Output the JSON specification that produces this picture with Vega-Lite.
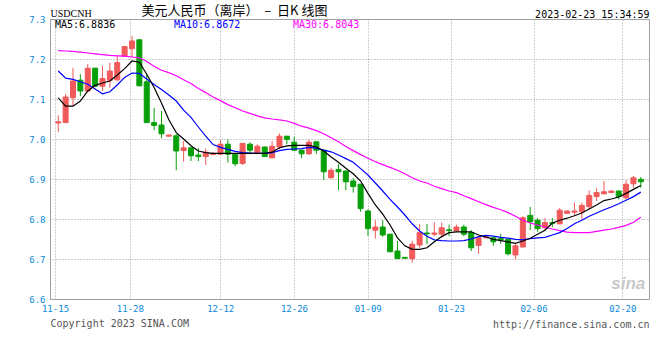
{
  "$schema": "https://vega.github.io/schema/vega-lite/v6.json",
  "width": 599,
  "height": 280,
  "autosize": {"type": "none"},
  "padding": {"left": 50, "top": 19, "right": 11, "bottom": 41},
  "background": "white",
  "config": {
    "view": {"stroke": "#a0a0a0", "strokeWidth": 1},
    "axis": {
      "labelFont": "DejaVu Sans Mono",
      "labelFontSize": 9,
      "labelColor": "#0a88d8",
      "ticks": false,
      "tickSize": 0,
      "domain": false,
      "gridColor": "#a0a0a0",
      "gridDash": [1, 2],
      "gridWidth": 1,
      "gridOpacity": 1,
      "labelFlush": false,
      "labelOverlap": false,
      "labelBound": false
    }
  },
  "data": {
    "values": [
      {"i":0,"o":7.040,"h":7.059,"l":7.017,"c":7.043,"ma5":7.103,"ma10":7.170,"ma30":7.221,"dir":"up"},
      {"i":1,"o":7.041,"h":7.113,"l":7.040,"c":7.105,"ma5":7.082,"ma10":7.152,"ma30":7.220,"dir":"up"},
      {"i":2,"o":7.103,"h":7.178,"l":7.082,"c":7.145,"ma5":7.082,"ma10":7.149,"ma30":7.219,"dir":"up"},
      {"i":3,"o":7.147,"h":7.162,"l":7.107,"c":7.120,"ma5":7.095,"ma10":7.143,"ma30":7.217,"dir":"down"},
      {"i":4,"o":7.120,"h":7.187,"l":7.116,"c":7.177,"ma5":7.120,"ma10":7.137,"ma30":7.215,"dir":"up"},
      {"i":5,"o":7.177,"h":7.178,"l":7.131,"c":7.132,"ma5":7.134,"ma10":7.125,"ma30":7.213,"dir":"down"},
      {"i":6,"o":7.132,"h":7.183,"l":7.120,"c":7.151,"ma5":7.140,"ma10":7.113,"ma30":7.211,"dir":"up"},
      {"i":7,"o":7.147,"h":7.191,"l":7.128,"c":7.170,"ma5":7.145,"ma10":7.118,"ma30":7.209,"dir":"up"},
      {"i":8,"o":7.148,"h":7.209,"l":7.145,"c":7.191,"ma5":7.160,"ma10":7.135,"ma30":7.208,"dir":"up"},
      {"i":9,"o":7.207,"h":7.232,"l":7.205,"c":7.231,"ma5":7.176,"ma10":7.154,"ma30":7.207,"dir":"up"},
      {"i":10,"o":7.226,"h":7.258,"l":7.203,"c":7.245,"ma5":7.195,"ma10":7.165,"ma30":7.205,"dir":"up"},
      {"i":11,"o":7.248,"h":7.249,"l":7.132,"c":7.133,"ma5":7.192,"ma10":7.164,"ma30":7.203,"dir":"down"},
      {"i":12,"o":7.143,"h":7.162,"l":7.040,"c":7.041,"ma5":7.162,"ma10":7.150,"ma30":7.194,"dir":"down"},
      {"i":13,"o":7.041,"h":7.078,"l":7.022,"c":7.034,"ma5":7.129,"ma10":7.136,"ma30":7.182,"dir":"down"},
      {"i":14,"o":7.035,"h":7.070,"l":7.002,"c":7.013,"ma5":7.090,"ma10":7.124,"ma30":7.172,"dir":"down"},
      {"i":15,"o":7.007,"h":7.011,"l":7.006,"c":7.010,"ma5":7.048,"ma10":7.110,"ma30":7.166,"dir":"up"},
      {"i":16,"o":7.008,"h":7.012,"l":6.922,"c":6.970,"ma5":7.016,"ma10":7.095,"ma30":7.158,"dir":"down"},
      {"i":17,"o":6.971,"h":6.995,"l":6.943,"c":6.978,"ma5":7.000,"ma10":7.072,"ma30":7.148,"dir":"up"},
      {"i":18,"o":6.978,"h":6.979,"l":6.945,"c":6.958,"ma5":6.983,"ma10":7.054,"ma30":7.139,"dir":"down"},
      {"i":19,"o":6.960,"h":6.977,"l":6.945,"c":6.956,"ma5":6.970,"ma10":7.030,"ma30":7.126,"dir":"down"},
      {"i":20,"o":6.956,"h":6.976,"l":6.935,"c":6.967,"ma5":6.966,"ma10":7.007,"ma30":7.116,"dir":"up"},
      {"i":21,"o":6.961,"h":6.967,"l":6.960,"c":6.964,"ma5":6.964,"ma10":6.986,"ma30":7.105,"dir":"up"},
      {"i":22,"o":6.962,"h":6.997,"l":6.961,"c":6.987,"ma5":6.964,"ma10":6.979,"ma30":7.096,"dir":"up"},
      {"i":23,"o":6.987,"h":6.999,"l":6.941,"c":6.962,"ma5":6.964,"ma10":6.974,"ma30":7.086,"dir":"down"},
      {"i":24,"o":6.962,"h":6.963,"l":6.932,"c":6.938,"ma5":6.964,"ma10":6.969,"ma30":7.078,"dir":"down"},
      {"i":25,"o":6.939,"h":6.990,"l":6.935,"c":6.989,"ma5":6.964,"ma10":6.966,"ma30":7.070,"dir":"up"},
      {"i":26,"o":6.987,"h":6.992,"l":6.962,"c":6.972,"ma5":6.964,"ma10":6.965,"ma30":7.064,"dir":"down"},
      {"i":27,"o":6.966,"h":6.987,"l":6.965,"c":6.982,"ma5":6.964,"ma10":6.964,"ma30":7.058,"dir":"up"},
      {"i":28,"o":6.980,"h":6.981,"l":6.955,"c":6.956,"ma5":6.964,"ma10":6.964,"ma30":7.053,"dir":"down"},
      {"i":29,"o":6.953,"h":6.995,"l":6.952,"c":6.982,"ma5":6.967,"ma10":6.966,"ma30":7.050,"dir":"up"},
      {"i":30,"o":6.980,"h":7.014,"l":6.974,"c":7.007,"ma5":6.978,"ma10":6.971,"ma30":7.048,"dir":"up"},
      {"i":31,"o":7.007,"h":7.008,"l":6.987,"c":6.999,"ma5":6.983,"ma10":6.974,"ma30":7.045,"dir":"down"},
      {"i":32,"o":6.992,"h":7.006,"l":6.970,"c":6.972,"ma5":6.984,"ma10":6.975,"ma30":7.039,"dir":"down"},
      {"i":33,"o":6.972,"h":6.973,"l":6.952,"c":6.963,"ma5":6.984,"ma10":6.976,"ma30":7.032,"dir":"down"},
      {"i":34,"o":6.963,"h":6.999,"l":6.960,"c":6.992,"ma5":6.984,"ma10":6.979,"ma30":7.027,"dir":"up"},
      {"i":35,"o":6.993,"h":6.994,"l":6.963,"c":6.972,"ma5":6.980,"ma10":6.977,"ma30":7.021,"dir":"down"},
      {"i":36,"o":6.972,"h":6.973,"l":6.897,"c":6.918,"ma5":6.970,"ma10":6.972,"ma30":7.013,"dir":"down"},
      {"i":37,"o":6.903,"h":6.928,"l":6.902,"c":6.922,"ma5":6.955,"ma10":6.968,"ma30":7.003,"dir":"up"},
      {"i":38,"o":6.924,"h":6.937,"l":6.872,"c":6.918,"ma5":6.942,"ma10":6.960,"ma30":6.993,"dir":"down"},
      {"i":39,"o":6.920,"h":6.921,"l":6.872,"c":6.893,"ma5":6.927,"ma10":6.951,"ma30":6.981,"dir":"down"},
      {"i":40,"o":6.895,"h":6.902,"l":6.866,"c":6.881,"ma5":6.913,"ma10":6.942,"ma30":6.971,"dir":"down"},
      {"i":41,"o":6.887,"h":6.888,"l":6.818,"c":6.826,"ma5":6.895,"ma10":6.926,"ma30":6.961,"dir":"down"},
      {"i":42,"o":6.820,"h":6.824,"l":6.758,"c":6.776,"ma5":6.864,"ma10":6.910,"ma30":6.952,"dir":"down"},
      {"i":43,"o":6.772,"h":6.797,"l":6.751,"c":6.780,"ma5":6.835,"ma10":6.890,"ma30":6.943,"dir":"up"},
      {"i":44,"o":6.780,"h":6.797,"l":6.756,"c":6.760,"ma5":6.812,"ma10":6.870,"ma30":6.936,"dir":"down"},
      {"i":45,"o":6.762,"h":6.763,"l":6.717,"c":6.718,"ma5":6.785,"ma10":6.849,"ma30":6.929,"dir":"down"},
      {"i":46,"o":6.720,"h":6.745,"l":6.700,"c":6.701,"ma5":6.753,"ma10":6.830,"ma30":6.922,"dir":"down"},
      {"i":47,"o":6.704,"h":6.705,"l":6.701,"c":6.702,"ma5":6.733,"ma10":6.810,"ma30":6.913,"dir":"down"},
      {"i":48,"o":6.701,"h":6.745,"l":6.691,"c":6.737,"ma5":6.724,"ma10":6.788,"ma30":6.903,"dir":"up"},
      {"i":49,"o":6.735,"h":6.787,"l":6.728,"c":6.766,"ma5":6.724,"ma10":6.770,"ma30":6.895,"dir":"up"},
      {"i":50,"o":6.765,"h":6.787,"l":6.737,"c":6.763,"ma5":6.728,"ma10":6.757,"ma30":6.890,"dir":"down"},
      {"i":51,"o":6.762,"h":6.792,"l":6.757,"c":6.765,"ma5":6.743,"ma10":6.748,"ma30":6.882,"dir":"up"},
      {"i":52,"o":6.762,"h":6.791,"l":6.753,"c":6.778,"ma5":6.756,"ma10":6.746,"ma30":6.876,"dir":"up"},
      {"i":53,"o":6.773,"h":6.786,"l":6.757,"c":6.771,"ma5":6.766,"ma10":6.745,"ma30":6.870,"dir":"down"},
      {"i":54,"o":6.770,"h":6.786,"l":6.768,"c":6.780,"ma5":6.768,"ma10":6.745,"ma30":6.866,"dir":"up"},
      {"i":55,"o":6.780,"h":6.786,"l":6.757,"c":6.762,"ma5":6.768,"ma10":6.746,"ma30":6.858,"dir":"down"},
      {"i":56,"o":6.766,"h":6.772,"l":6.720,"c":6.728,"ma5":6.768,"ma10":6.750,"ma30":6.851,"dir":"down"},
      {"i":57,"o":6.734,"h":6.757,"l":6.713,"c":6.753,"ma5":6.760,"ma10":6.756,"ma30":6.843,"dir":"up"},
      {"i":58,"o":6.753,"h":6.757,"l":6.752,"c":6.756,"ma5":6.755,"ma10":6.759,"ma30":6.836,"dir":"up"},
      {"i":59,"o":6.753,"h":6.754,"l":6.733,"c":6.743,"ma5":6.749,"ma10":6.757,"ma30":6.829,"dir":"down"},
      {"i":60,"o":6.751,"h":6.763,"l":6.738,"c":6.748,"ma5":6.746,"ma10":6.754,"ma30":6.823,"dir":"down"},
      {"i":61,"o":6.749,"h":6.750,"l":6.709,"c":6.713,"ma5":6.743,"ma10":6.752,"ma30":6.816,"dir":"down"},
      {"i":62,"o":6.710,"h":6.737,"l":6.699,"c":6.733,"ma5":6.739,"ma10":6.749,"ma30":6.807,"dir":"up"},
      {"i":63,"o":6.730,"h":6.807,"l":6.729,"c":6.803,"ma5":6.745,"ma10":6.748,"ma30":6.797,"dir":"up"},
      {"i":64,"o":6.809,"h":6.830,"l":6.772,"c":6.793,"ma5":6.752,"ma10":6.751,"ma30":6.790,"dir":"down"},
      {"i":65,"o":6.797,"h":6.802,"l":6.768,"c":6.776,"ma5":6.762,"ma10":6.753,"ma30":6.785,"dir":"down"},
      {"i":66,"o":6.778,"h":6.802,"l":6.770,"c":6.791,"ma5":6.772,"ma10":6.754,"ma30":6.780,"dir":"up"},
      {"i":67,"o":6.791,"h":6.802,"l":6.780,"c":6.789,"ma5":6.790,"ma10":6.760,"ma30":6.775,"dir":"down"},
      {"i":68,"o":6.788,"h":6.828,"l":6.787,"c":6.822,"ma5":6.797,"ma10":6.766,"ma30":6.771,"dir":"up"},
      {"i":69,"o":6.814,"h":6.821,"l":6.813,"c":6.820,"ma5":6.802,"ma10":6.776,"ma30":6.767,"dir":"up"},
      {"i":70,"o":6.817,"h":6.841,"l":6.809,"c":6.820,"ma5":6.808,"ma10":6.788,"ma30":6.766,"dir":"up"},
      {"i":71,"o":6.818,"h":6.841,"l":6.799,"c":6.834,"ma5":6.815,"ma10":6.797,"ma30":6.766,"dir":"up"},
      {"i":72,"o":6.831,"h":6.872,"l":6.824,"c":6.859,"ma5":6.825,"ma10":6.807,"ma30":6.766,"dir":"up"},
      {"i":73,"o":6.856,"h":6.878,"l":6.845,"c":6.866,"ma5":6.835,"ma10":6.815,"ma30":6.769,"dir":"up"},
      {"i":74,"o":6.863,"h":6.895,"l":6.862,"c":6.868,"ma5":6.846,"ma10":6.823,"ma30":6.772,"dir":"up"},
      {"i":75,"o":6.866,"h":6.871,"l":6.865,"c":6.870,"ma5":6.850,"ma10":6.830,"ma30":6.775,"dir":"up"},
      {"i":76,"o":6.870,"h":6.871,"l":6.849,"c":6.856,"ma5":6.855,"ma10":6.838,"ma30":6.779,"dir":"down"},
      {"i":77,"o":6.853,"h":6.897,"l":6.849,"c":6.887,"ma5":6.864,"ma10":6.847,"ma30":6.784,"dir":"up"},
      {"i":78,"o":6.888,"h":6.908,"l":6.878,"c":6.903,"ma5":6.874,"ma10":6.856,"ma30":6.792,"dir":"up"},
      {"i":79,"o":6.899,"h":6.905,"l":6.878,"c":6.893,"ma5":6.8836,"ma10":6.8672,"ma30":6.8043,"dir":"down"}
    ]
  },
  "layer": [
    {
      "mark": {"type": "rule", "strokeWidth": 1},
      "encoding": {
        "x": {
          "field": "i", "type": "quantitative",
          "scale": {"domain": [-0.44, 79.43], "nice": false, "zero": false},
          "axis": {
            "orient": "bottom",
            "values": [-0.44, 9.7, 21.96, 31.96, 41.96, 53.25, 64.45, 76.5],
            "labelExpr": "datum.value < 0 ? '11-15' : datum.value < 15 ? '11-28' : datum.value < 25 ? '12-12' : datum.value < 35 ? '12-26' : datum.value < 45 ? '01-09' : datum.value < 60 ? '01-23' : datum.value < 70 ? '02-06' : '02-20'",
            "labelPadding": 5,
            "grid": true,
            "title": "Copyright 2023 SINA.COM",
            "titleFont": "DejaVu Sans Mono",
            "titleFontSize": 10,
            "titleFontWeight": "normal",
            "titleColor": "#555555",
            "titleAlign": "left",
            "titleAnchor": "start",
            "titleX": 0,
            "titleY": 27,
            "titleBaseline": "alphabetic"
          }
        },
        "y": {
          "field": "l", "type": "quantitative",
          "scale": {"domain": [6.6, 7.3], "nice": false, "zero": false},
          "axis": {
            "orient": "left",
            "values": [6.6, 6.7, 6.8, 6.9, 7.0, 7.1, 7.2, 7.3],
            "format": ".1f",
            "labelPadding": 5,
            "grid": true,
            "title": "USDCNH",
            "titleAngle": 0,
            "titleX": 0,
            "titleY": -3,
            "titleAlign": "left",
            "titleBaseline": "alphabetic",
            "titleFont": "Liberation Serif",
            "titleFontSize": 10,
            "titleFontWeight": "normal",
            "titleColor": "#000000"
          }
        },
        "y2": {"field": "h"},
        "color": {
          "field": "dir", "type": "nominal",
          "scale": {"domain": ["up", "down", "ma5", "ma10", "ma30"], "range": ["#f05a5a", "#08a008", "#000000", "#0000ff", "#ff00ff"]},
          "legend": {
            "values": ["ma5", "ma10", "ma30"],
            "labelExpr": "datum.value == 'ma5' ? 'MA5:6.8836' : datum.value == 'ma10' ? 'MA10:6.8672' : 'MA30:6.8043'",
            "title": null,
            "orient": "none",
            "legendX": -5,
            "legendY": 1,
            "direction": "horizontal",
            "columns": 3,
            "gridAlign": "all",
            "columnPadding": 42,
            "padding": 0,
            "symbolSize": 0,
            "symbolStrokeWidth": 0,
            "symbolOpacity": 0,
            "labelOffset": 0,
            "labelFont": "DejaVu Sans Mono",
            "labelFontSize": 10,
            "labelLimit": 200,
            "labelBaseline": "middle",
            "encode": {"labels": {"update": {"fill": {"scale": "color", "field": "value"}}}}
          }
        }
      }
    },
    {
      "mark": {"type": "bar", "width": 5, "strokeWidth": 1},
      "encoding": {
        "x": {"field": "i", "type": "quantitative", "axis": null},
        "y": {"field": "o", "type": "quantitative", "axis": null},
        "y2": {"field": "c"},
        "color": {"field": "dir", "type": "nominal"},
        "stroke": {
          "field": "dir", "type": "nominal",
          "scale": {"domain": ["up", "down"], "range": ["#f05a5a", "#08a008"]},
          "legend": null
        }
      }
    },
    {
      "transform": [{"fold": ["ma30", "ma10", "ma5"], "as": ["key", "val"]}],
      "mark": {"type": "line", "strokeWidth": 1.2},
      "encoding": {
        "x": {
          "field": "i", "type": "quantitative",
          "axis": {
            "orient": "top", "labels": false, "ticks": false, "domain": false, "grid": false,
            "title": "美元人民币（离岸）\u00a0\u00a0–\u00a0\u00a0日K 线图",
            "titleFont": "Noto Sans CJK SC",
            "titleFontSize": 13,
            "titleFontWeight": "normal",
            "titleColor": "#000000",
            "titleAlign": "left",
            "titleBaseline": "alphabetic",
            "titleX": 91,
            "titleY": -5
          }
        },
        "y": {
          "field": "val", "type": "quantitative",
          "axis": {
            "orient": "right", "labels": false, "ticks": false, "domain": false, "grid": false,
            "title": "http://finance.sina.com.cn",
            "titleAngle": 0,
            "titleFont": "DejaVu Sans Mono",
            "titleFontSize": 10,
            "titleFontWeight": "normal",
            "titleColor": "#555555",
            "titleAlign": "right",
            "titleBaseline": "alphabetic",
            "titleX": 0,
            "titleY": 308
          }
        },
        "color": {"field": "key", "type": "nominal"}
      }
    },
    {
      "data": {"values": [{}]},
      "mark": {"type": "text", "text": "sina", "font": "Liberation Sans", "fontSize": 17, "fontStyle": "italic", "fontWeight": "bold", "color": "#c8c8c8", "align": "center", "baseline": "alphabetic"},
      "encoding": {
        "x": {
          "datum": 77.3, "type": "quantitative",
          "axis": {
            "orient": "top", "labels": false, "ticks": false, "domain": false, "grid": false,
            "title": "2023-02-23 15:34:59",
            "titleFont": "DejaVu Sans Mono",
            "titleFontSize": 10,
            "titleFontWeight": "normal",
            "titleColor": "#000000",
            "titleAlign": "right",
            "titleBaseline": "alphabetic",
            "titleX": 599,
            "titleY": -2
          }
        },
        "y": {"datum": 6.625, "type": "quantitative", "axis": null}
      }
    }
  ]
}
